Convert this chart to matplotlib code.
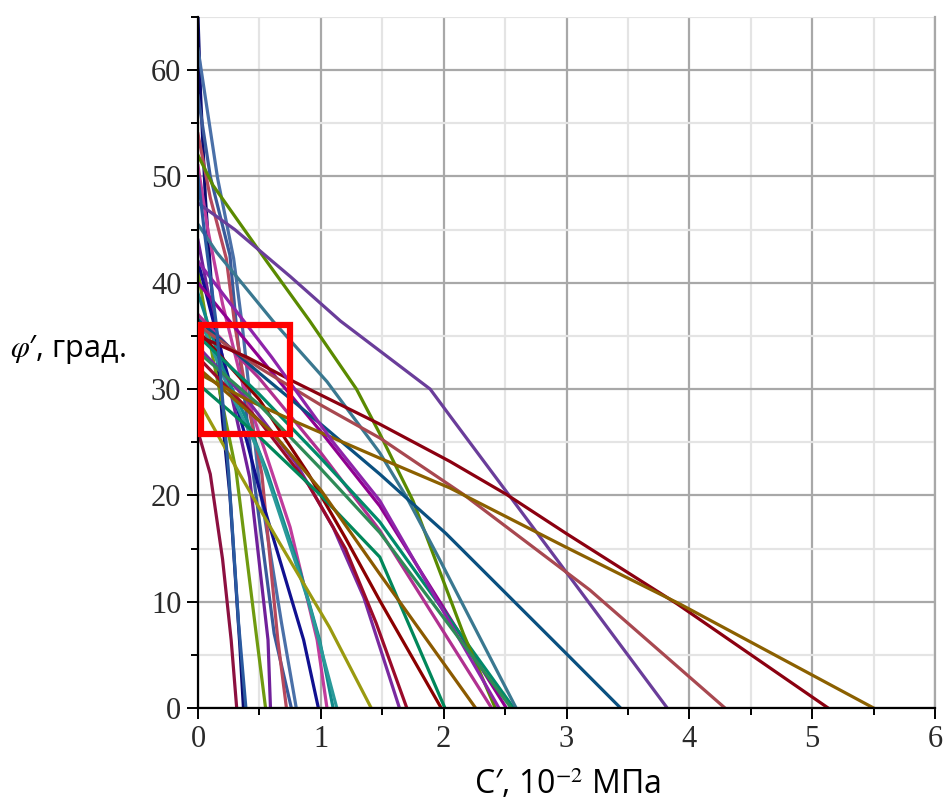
import numpy as np
import matplotlib
matplotlib.use("Agg")
import matplotlib.pyplot as plt
from matplotlib.patches import Rectangle
from matplotlib.ticker import MultipleLocator

# ---- data: each curve C' (x) vs phi' (y) ----
c01 = [0, 0.02, 0.06, 0.12, 0.20, 0.26, 0.34, 0.37]
p01 = [65, 58, 48, 38, 27, 20, 6, 0]
c02 = [0, 0.10, 0.20, 0.27, 0.315]
p02 = [26, 22, 14, 6.4, 0]
c03 = [0, 0.16, 0.29, 0.36, 0.50, 0.68, 0.80]
p03 = [62, 49.8, 42.3, 36, 21, 8, 0]
c04 = [0, 0.10, 0.26, 0.32, 0.45, 0.62, 0.76]
p04 = [57.6, 50, 42.6, 35, 22, 7, 0]
c05 = [0, 0.10, 0.23, 0.30, 0.40, 0.52, 0.65, 0.72]
p05 = [54, 48, 42.3, 36, 29, 22, 6.4, 0]
c06 = [0, 0.08, 0.20, 0.35, 0.55, 0.75, 0.97, 1.05]
p06 = [51, 45, 38, 31, 24, 17, 6.4, 0]
c07 = [0, 0.10, 0.20, 0.30, 0.42, 0.57, 0.59]
p07 = [44, 38, 33, 28, 21.7, 6.4, 0]
c08 = [0, 0.12, 0.31, 0.48, 0.55]
p08 = [41, 33, 22.3, 6.4, 0]
c09 = [0, 0.20, 0.40, 0.53, 0.86, 0.98]
p09 = [42, 33, 25, 19.2, 6.4, 0]
c10 = [0, 0.20, 0.40, 0.56, 0.83, 0.99, 1.10]
p10 = [39, 32, 27, 22.3, 12.9, 6.4, 0]
c11 = [0, 0.25, 0.50, 0.70, 0.90, 1.13]
p11 = [37, 30, 24, 17, 10, 0]
c12 = [0, 0.34, 0.64, 1.07, 1.41]
p12 = [29, 22, 16, 7.6, 0]
c13 = [0, 0.40, 0.80, 1.10, 1.35, 1.64]
p13 = [34, 29, 23, 17, 10.4, 0]
c14 = [0, 0.50, 0.90, 1.20, 1.45, 1.70]
p14 = [33, 27, 21, 15, 8, 0]
c15 = [0, 0.50, 0.90, 1.20, 1.48, 1.98]
p15 = [35.5, 29, 22, 16, 10.1, 0]
c16 = [0, 0.50, 1.00, 1.48, 2.01]
p16 = [30.5, 25.5, 20, 14.2, 0]
c17 = [0, 0.60, 1.00, 1.48, 2.26]
p17 = [32, 26, 20.5, 12.6, 0]
c18 = [0, 0.50, 1.00, 1.48, 2.39]
p18 = [37, 31, 24, 16.7, 0]
c19 = [0, 0.50, 1.00, 1.48, 2.51]
p19 = [40, 33, 26, 19, 0]
c20 = [0, 0.50, 1.00, 1.48, 2.57]
p20 = [35, 29.5, 23.5, 17.5, 0]
c21 = [0, 0.12, 0.56, 0.91, 1.29, 1.48, 1.75, 2.16, 2.42]
p21 = [52, 49.2, 42, 36.4, 30, 25.8, 19.5, 7, 0]
c22 = [0, 0.15, 0.61, 1.05, 1.48, 1.70, 1.97, 2.59]
p22 = [45.5, 42.9, 36.4, 30.7, 24, 19.8, 13.9, 0]
c23 = [0, 0.50, 1.00, 1.48, 2.02, 3.00, 3.44]
p23 = [36.5, 31.5, 26.7, 22, 16.4, 5.1, 0]
c24 = [0, 0.30, 0.75, 1.16, 1.89, 2.05, 2.54, 3.82]
p24 = [47.5, 45, 40.6, 36.4, 30, 27.5, 19.9, 0]
c25 = [0, 0.50, 1.00, 1.48, 2.16, 3.19, 4.29]
p25 = [36, 32, 28.5, 25.4, 20.1, 11.1, 0]
c26 = [0, 0.40, 0.78, 1.48, 2.05, 2.51, 3.00, 3.90, 5.13]
p26 = [35, 33, 30.7, 26.7, 23.2, 20.1, 16.4, 9.8, 0]
c27 = [0, 0.40, 0.78, 1.48, 2.05, 3.00, 3.92, 5.50]
p27 = [31.5, 29, 27, 23.5, 20.7, 15.1, 9.8, 0]
c28 = [0, 0.60, 1.10, 1.48, 2.45]
p28 = [42, 33, 25, 19.5, 0]
c29 = [0, 0.50, 1.00, 1.48, 2.55]
p29 = [33.5, 28.5, 22.5, 16.5, 0]
c30 = [0, 0.05, 0.15, 0.25, 0.33, 0.39]
p30 = [50, 45, 36, 22, 8, 0]

curves_c = [c01, c02, c03, c04, c05, c06, c07, c08, c09, c10, c11, c12, c13, c14, c15,
            c16, c17, c18, c19, c20, c21, c22, c23, c24, c25, c26, c27, c28, c29, c30]
curves_p = [p01, p02, p03, p04, p05, p06, p07, p08, p09, p10, p11, p12, p13, p14, p15,
            p16, p17, p18, p19, p20, p21, p22, p23, p24, p25, p26, p27, p28, p29, p30]
colors = ["#0a0a70", "#8c1040", "#4a70a8", "#3a5a9a", "#b5485d", "#c03c9c", "#70209a",
          "#6f9a10", "#101090", "#108a8a", "#2a9a9a", "#9a9a10", "#7a2aa0", "#9a0a2a",
          "#8b0000", "#00875a", "#8b5a00", "#b03090", "#900090", "#008a6a", "#5a8a00",
          "#3a7890", "#0a5080", "#6a3d9a", "#a84850", "#8b0010", "#8b6000", "#8e24aa",
          "#2e8b57", "#2a5aa0"]

xticks = [0, 1, 2, 3, 4, 5, 6]
yticks = [0, 10, 20, 30, 40, 50, 60]

plt.rcParams["mathtext.fontset"] = "stix"

fig = plt.figure(figsize=(9.43, 8.10), dpi=100)
ax = fig.add_axes([198 / 943, 102 / 810, 737 / 943, 691 / 810])
ax.set_xlim(0, 6)
ax.set_ylim(0, 65)

ax.set_xticks(xticks)
ax.set_yticks(yticks)
ax.xaxis.set_minor_locator(MultipleLocator(0.5))
ax.yaxis.set_minor_locator(MultipleLocator(5))
ax.grid(which="major", color="#a8a8a8", lw=1.6)
ax.grid(which="minor", color="#e4e4e4", lw=1.6)
ax.set_axisbelow(True)

ax.spines["top"].set_visible(False)
ax.spines["right"].set_color("#a8a8a8")
ax.spines["right"].set_linewidth(1.6)
ax.spines["left"].set_linewidth(1.6)
ax.spines["bottom"].set_linewidth(1.6)

ax.tick_params(which="major", length=8, width=1.4, direction="out", pad=4,
               labelcolor="#2a2a2a")
ax.tick_params(which="minor", length=5, width=1.4, direction="out")
for lab in ax.get_xticklabels() + ax.get_yticklabels():
    lab.set_fontfamily("Liberation Serif")
    lab.set_fontsize(22)

for cx, py, col in zip(curves_c, curves_p, colors):
    ax.plot(cx, py, color=col, lw=2.3, solid_joinstyle="round")

ax.add_patch(Rectangle((0.025, 25.8), 0.725, 10.2, fill=False, ec="red", lw=4.5,
                       zorder=10, clip_on=False))

fig.text(10 / 943, 1 - 349 / 810, "$\\varphi$′, град.", ha="left", va="center",
         fontsize=22, family="Open Sans")
fig.text(567 / 943, 1 - 785 / 810, "C′, 10$^{-2}$ МПа", ha="center", va="center",
         fontsize=23, family="Open Sans")

fig.savefig("out.png", dpi=100)
